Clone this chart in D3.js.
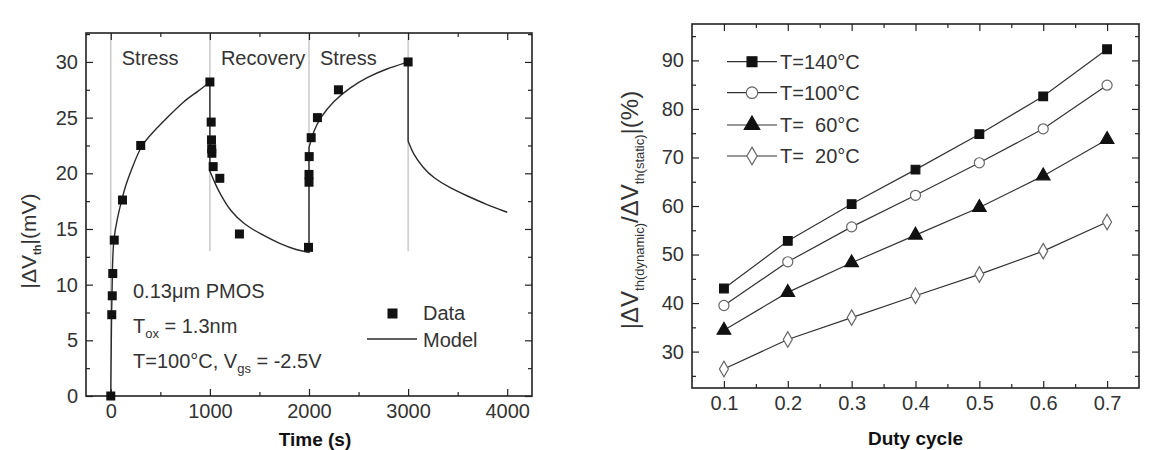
<!DOCTYPE html>
<html><head><meta charset="utf-8">
<script src="https://cdn.jsdelivr.net/npm/d3@7"></script>
<style>
body{margin:0;background:#fff;}
svg{font-family:"Liberation Sans",Arial,sans-serif;}
text{white-space:pre;}
</style></head>
<body><svg id="c" width="1151" height="450"></svg>
<script>
// ---------- Left chart data ----------
const timeData = [0,10,15,20,35,118,302,1000,1013,1016,1018,1020,1033,1100,1298,1995,2000,2000,2002,2022,2085,2297,3000];
const dvthData = [0,7.3,9.0,11.0,14.0,17.6,22.5,28.2,24.6,23.0,22.2,21.8,20.6,19.55,14.55,13.35,19.2,19.9,21.5,23.2,25.0,27.5,30.0];
// model curve; repeated times mark vertical jumps (start of stress / recovery)
const modelTime = [0,8,18,27,67,107,151,218,302,436,570,738,872,1000,
                   1000,1056,1107,1207,1341,1509,1710,1878,2000,
                   2000,2046,2113,2247,2414,2582,2783,3000,
                   3000,3052,3152,3253,3420,3588,3789,4000];
const modelDvth = [0,8,12,14.1,16.0,17.5,19.0,20.5,22.5,23.8,25.0,26.5,27.3,28.2,
                   20.2,19.0,18.1,16.6,15.45,14.55,13.65,13.1,12.9,
                   22.3,23.8,25.0,26.5,27.7,28.6,29.4,30.0,
                   22.9,21.7,20.5,19.6,18.7,18.0,17.2,16.5];
const phaseTimes = [0,1000,2000,3000];
const phaseLabels = ["Stress","Recovery","Stress"];
const leftXTicks = [0,1000,2000,3000,4000];
const leftXMinor = [500,1500,2500,3500];
const leftYTicks = [0,5,10,15,20,25,30];
const leftYMinor = [2.5,7.5,12.5,17.5,22.5,27.5,32.5];

// ---------- Right chart data ----------
const duty = [0.1,0.2,0.3,0.4,0.5,0.6,0.7];
const dutyMinor = [0.15,0.25,0.35,0.45,0.55,0.65];
const t140 = [43.0,52.8,60.4,67.5,74.8,82.6,92.3];
const t100 = [39.5,48.5,55.7,62.2,68.9,75.9,84.9];
const t60  = [34.4,42.2,48.3,54.0,59.7,66.2,73.7];
const t20  = [26.4,32.5,37.0,41.5,45.9,50.7,56.7];
const seriesNames = ["T=140°C","T=100°C","T=  60°C","T=  20°C"];
const rightYTicks = [30,40,50,60,70,80,90];
const rightYMinor = [25,35,45,55,65,75,85,95];

const svg = d3.select("#c");
const TXT = "#333", AX = "#222";

function frameAxes(g, x, y, w, h, xt, yt, xm, ym, fmtX, fmtY){
  const ax = (gen, tr) => g.append("g").attr("transform", tr).call(gen);
  const style = sel => { sel.select(".domain").remove(); sel.selectAll("line").attr("stroke",AX).attr("stroke-width",1.2);
    sel.selectAll("text").attr("font-size",20).attr("fill",TXT).attr("font-family","Liberation Sans, Arial, sans-serif"); };
  style(ax(d3.axisBottom(x).tickValues(xt).tickFormat(fmtX).tickSizeInner(-7).tickSizeOuter(0).tickPadding(8), `translate(0,${h})`));
  style(ax(d3.axisBottom(x).tickValues(xm).tickFormat("").tickSizeInner(-4).tickSizeOuter(0), `translate(0,${h})`));
  style(ax(d3.axisTop(x).tickValues(xt).tickFormat("").tickSizeInner(-7).tickSizeOuter(0), `translate(0,0)`));
  style(ax(d3.axisTop(x).tickValues(xm).tickFormat("").tickSizeInner(-4).tickSizeOuter(0), `translate(0,0)`));
  style(ax(d3.axisLeft(y).tickValues(yt).tickFormat(fmtY).tickSizeInner(-7).tickSizeOuter(0).tickPadding(8), `translate(0,0)`));
  style(ax(d3.axisLeft(y).tickValues(ym).tickFormat("").tickSizeInner(-4).tickSizeOuter(0), `translate(0,0)`));
  style(ax(d3.axisRight(y).tickValues(yt).tickFormat("").tickSizeInner(-7).tickSizeOuter(0), `translate(${w},0)`));
  style(ax(d3.axisRight(y).tickValues(ym).tickFormat("").tickSizeInner(-4).tickSizeOuter(0), `translate(${w},0)`));
  g.append("rect").attr("width",w).attr("height",h).attr("fill","none").attr("stroke",AX).attr("stroke-width",1.6);
}

// ================= LEFT CHART =================
{
  const L = {x:86, y:33, w:446, h:363};
  const g = svg.append("g").attr("transform",`translate(${L.x},${L.y})`);
  const x = d3.scaleLinear().domain([-250,4250]).range([0,L.w]);
  const y = d3.scaleLinear().domain([0,32.6]).range([L.h,0]);
  // phase lines
  g.selectAll(".ph").data(phaseTimes).join("line")
    .attr("x1",d=>x(d)).attr("x2",d=>x(d)).attr("y1",0).attr("y2",(d,i)=>i===0?y(0):y(13))
    .attr("stroke","#bdbdbd").attr("stroke-width",1.2);
  frameAxes(g,x,y,L.w,L.h,leftXTicks,leftYTicks,leftXMinor,leftYMinor,d3.format("d"),d3.format("d"));
  // phase labels
  g.selectAll(".pl").data(phaseLabels).join("text")
    .attr("x",(d,i)=>x(phaseTimes[i])+11).attr("y",32)
    .attr("font-size",20).attr("fill",TXT).text(d=>d);
  // model: split at repeated times into smooth segments joined by vertical jumps
  const pts = modelTime.map((t,i)=>[t,modelDvth[i]]);
  const segs = [[pts[0]]];
  for(let i=1;i<pts.length;i++){
    if(pts[i][0]===pts[i-1][0]) segs.push([pts[i]]); else segs[segs.length-1].push(pts[i]);
  }
  const line = d3.line().x(d=>x(d[0])).y(d=>y(d[1])).curve(d3.curveBasis);
  const dStr = segs.map((s,k)=>{ const p = line(s); return k===0 ? p : "L" + p.slice(1); }).join("");
  g.append("path").attr("d",dStr).attr("fill","none").attr("stroke","#2a2a2a").attr("stroke-width",1.4);
  // data
  g.selectAll(".dp").data(timeData).join("rect")
    .attr("x",(d)=>x(d)-4.5).attr("y",(d,i)=>y(dvthData[i])-4.5).attr("width",9).attr("height",9).attr("fill","#111");
  // annotations
  const ann = g.append("g").attr("font-size",20).attr("fill",TXT);
  ann.append("text").attr("x",47).attr("y",265).text("0.13μm PMOS");
  const t2 = ann.append("text").attr("x",47).attr("y",300);
  t2.append("tspan").text("T"); t2.append("tspan").attr("font-size",13).attr("dy",5).text("ox"); t2.append("tspan").attr("dy",-5).text(" = 1.3nm");
  const t3 = ann.append("text").attr("x",47).attr("y",335);
  t3.append("tspan").text("T=100°C, V"); t3.append("tspan").attr("font-size",13).attr("dy",5).text("gs"); t3.append("tspan").attr("dy",-5).text(" = -2.5V");
  // legend
  g.append("rect").attr("x",301.5).attr("y",275.5).attr("width",10).attr("height",10).attr("fill","#111");
  g.append("text").attr("x",337).attr("y",287).attr("font-size",20).attr("fill",TXT).text("Data");
  g.append("line").attr("x1",281).attr("x2",331).attr("y1",306).attr("y2",306).attr("stroke","#2a2a2a").attr("stroke-width",1.4);
  g.append("text").attr("x",337).attr("y",314).attr("font-size",20).attr("fill",TXT).text("Model");
  // axis titles
  svg.append("text").attr("x",L.x+L.w/2+6).attr("y",446).attr("text-anchor","middle").attr("font-size",19).attr("font-weight","bold").attr("fill","#111").text("Time (s)");
  const yl = svg.append("text").attr("transform","translate(36,241) rotate(-90)").attr("text-anchor","middle").attr("font-size",21).attr("fill",TXT);
  yl.append("tspan").text("|ΔV"); yl.append("tspan").attr("font-size",11).attr("font-weight","bold").attr("dy",5).text("th"); yl.append("tspan").attr("dy",-5).text("|(mV)");
}

// ================= RIGHT CHART =================
{
  const R = {x:692, y:24, w:447, h:364};
  const g = svg.append("g").attr("transform",`translate(${R.x},${R.y})`);
  const x = d3.scaleLinear().domain([0.05,0.75]).range([0,R.w]);
  const y = d3.scaleLinear().domain([22.5,97.5]).range([R.h,0]);
  frameAxes(g,x,y,R.w,R.h,duty,rightYTicks,dutyMinor,rightYMinor,d3.format(".1f"),d3.format("d"));
  const all = [t140,t100,t60,t20];
  const line = d3.line().x((d,i)=>x(duty[i])).y(d=>y(d));
  const sym = [d3.symbolSquare, d3.symbolCircle, d3.symbolTriangle, d3.symbolDiamond];
  const sz = [75, 80, 80, 70];
  const fill = ["#111","#fff","#111","#fff"];
  const stroke = ["#111","#666","#111","#666"];
  all.forEach((s,k)=>{
    g.append("path").datum(s).attr("d",line).attr("fill","none").attr("stroke","#333").attr("stroke-width",1.2);
    g.selectAll(".m"+k).data(s).join("path")
      .attr("transform",(d,i)=>`translate(${x(duty[i])},${y(d)})`)
      .attr("d",d3.symbol().type(sym[k]).size(sz[k]))
      .attr("fill",fill[k]).attr("stroke",stroke[k]).attr("stroke-width",1.2);
  });
  // legend
  const ly = [37.7,68.7,101,132];
  seriesNames.forEach((n,k)=>{
    g.append("line").attr("x1",35).attr("x2",85).attr("y1",ly[k]).attr("y2",ly[k]).attr("stroke","#333").attr("stroke-width",1.2);
    g.append("path").attr("transform",`translate(60,${ly[k]})`).attr("d",d3.symbol().type(sym[k]).size(sz[k]*1.3))
      .attr("fill",fill[k]).attr("stroke",stroke[k]).attr("stroke-width",1.2);
    g.append("text").attr("x",88).attr("y",ly[k]+7).attr("font-size",20).attr("fill",TXT).text(n);
  });
  svg.append("text").attr("x",R.x+R.w/2).attr("y",445).attr("text-anchor","middle").attr("font-size",19).attr("font-weight","bold").attr("fill","#111").text("Duty cycle");
  const yl = svg.append("text").attr("transform","translate(638,210) rotate(-90)").attr("text-anchor","middle").attr("font-size",24).attr("fill",TXT);
  yl.append("tspan").text("|ΔV"); yl.append("tspan").attr("font-size",13).attr("dy",6).text("th(dynamic)");
  yl.append("tspan").attr("dy",-6).text("/ΔV"); yl.append("tspan").attr("font-size",13).attr("dy",6).text("th(static)");
  yl.append("tspan").attr("dy",-6).text("|(%)");
}
</script></body></html>
